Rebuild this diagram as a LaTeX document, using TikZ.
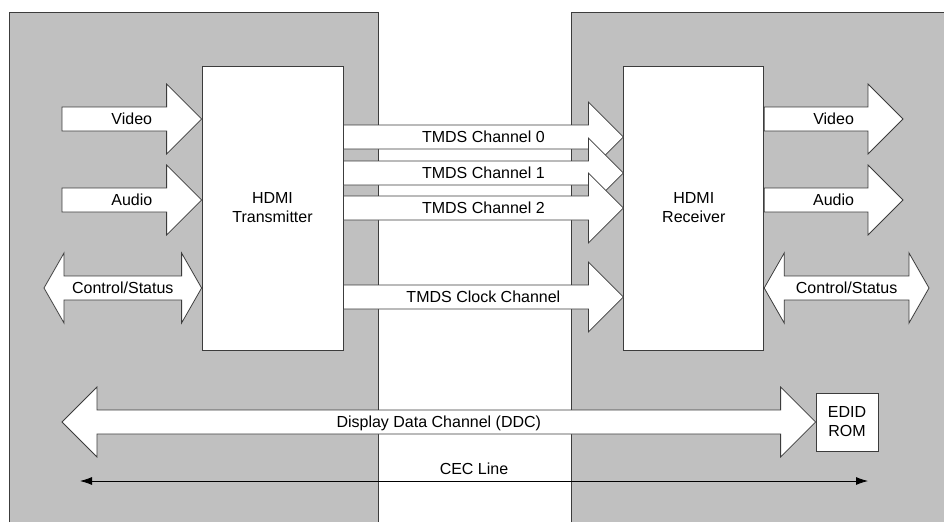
\documentclass[tikz,border=0pt]{standalone}
\usepackage{fontspec}
\setmainfont{Liberation Sans}
\usetikzlibrary{calc,positioning,arrows.meta}

\definecolor{panelgray}{RGB}{192,192,192}
\definecolor{edgegray}{RGB}{60,60,60}

% half widths of the block arrows
\newcommand\arrshaft{12pt}
\newcommand\arrhead{35pt}
\tikzset{tip len/.store in=\tiplen, tip len=35pt}

\begin{document}
\begin{tikzpicture}[x=1pt,y=-1pt,>={Latex[length=12pt,width=8pt]},
  font=\fontsize{16}{19}\selectfont,
  box/.style={draw=edgegray, fill=white, line width=0.8pt, align=center, inner sep=0pt},
  lbl/.style={inner sep=0pt, text height=11.5pt, text depth=0pt},
  bigarrow/.style={draw=edgegray, fill=white, line width=0.8pt,
    to path={let \p1=(\tikztostart), \p2=(\tikztotarget),
      \p3=($(\tikztotarget)!\tiplen!(\tikztostart)$) in
      (\x1,\y1+\arrshaft) -- (\x3,\y1+\arrshaft) -- (\x3,\y1+\arrhead) -- (\x2,\y2)
      -- (\x3,\y1-\arrhead) -- (\x3,\y1-\arrshaft) -- (\x1,\y1-\arrshaft) -- cycle}},
  bothway/.style={draw=edgegray, fill=white, line width=0.8pt,
    to path={let \p1=(\tikztostart), \p2=(\tikztotarget),
      \p3=($(\tikztotarget)!\tiplen!(\tikztostart)$),
      \p4=($(\tikztostart)!\tiplen!(\tikztotarget)$) in
      (\x1,\y1) -- (\x4,\y1+\arrhead) -- (\x4,\y1+\arrshaft) -- (\x3,\y1+\arrshaft)
      -- (\x3,\y1+\arrhead) -- (\x2,\y2) -- (\x3,\y1-\arrhead) -- (\x3,\y1-\arrshaft)
      -- (\x4,\y1-\arrshaft) -- (\x4,\y1-\arrhead) -- cycle}}]
	\useasboundingbox (0,0) rectangle (944,522);

	% source and sink panels
	\fill[panelgray] (9,12) rectangle (378,522);
	\draw[edgegray, line width=0.8pt] (9,522) -- (9,12) -- (378,12) -- (378,522);
	\fill[panelgray] (571,12) rectangle (944,522);
	\draw[edgegray, line width=0.8pt] (571,522) -- (571,12) -- (944,12);

	% create the nodes
	\node[box, minimum width=141pt, minimum height=284pt] (tx) at (272.5,208) {HDMI\\Transmitter};
	\node[box, minimum width=140pt, minimum height=284pt, right=280pt of tx] (rx) {HDMI\\Receiver};
	\node[box, minimum width=62pt, minimum height=58pt] (edid) at (847,422) {EDID\\ROM};

	\coordinate (vidin) at (62,119);
	\coordinate (audin) at (62,200);
	\coordinate (ctlin) at (44,288);
	\coordinate (vidout) at (903,119);
	\coordinate (audout) at (903,200);
	\coordinate (ctlout) at (929,288);
	\coordinate (tm0) at (0,137);
	\coordinate (tm1) at (0,173);
	\coordinate (tm2) at (0,208);
	\coordinate (tmclk) at (0,297);
	\coordinate (ddc) at (62,422);
	\coordinate (cecl) at (80,481);
	\coordinate (cecr) at (868,481);

	% transmitter side
	\draw[bigarrow] (vidin) to (vidin -| tx.west);
	\path (vidin) -- node[lbl] (vidinlbl) {Video} (vidin -| tx.west);
	\draw[bigarrow] (audin) to (audin -| tx.west);
	\path (audin) -- node[lbl] (audinlbl) {Audio} (audin -| tx.west);
	\draw[bothway, tip len=20pt] (ctlin) to (ctlin -| tx.west);
	\path (ctlin) -- node[lbl] (ctlinlbl) {Control/Status} (ctlin -| tx.west);

	% TMDS link
	\draw[bigarrow] (tx.east |- tm0) to (rx.west |- tm0);
	\path (tx.east |- tm0) -- node[lbl] (tm0lbl) {TMDS Channel 0} (rx.west |- tm0);
	\draw[bigarrow] (tx.east |- tm1) to (rx.west |- tm1);
	\path (tx.east |- tm1) -- node[lbl] (tm1lbl) {TMDS Channel 1} (rx.west |- tm1);
	\draw[bigarrow] (tx.east |- tm2) to (rx.west |- tm2);
	\path (tx.east |- tm2) -- node[lbl] (tm2lbl) {TMDS Channel 2} (rx.west |- tm2);
	\draw[bigarrow] (tx.east |- tmclk) to (rx.west |- tmclk);
	\path (tx.east |- tmclk) -- node[lbl] (tmclklbl) {TMDS Clock Channel} (rx.west |- tmclk);

	% receiver side
	\draw[bigarrow] (vidout -| rx.east) to (vidout);
	\path (vidout -| rx.east) -- node[lbl] (vidoutlbl) {Video} (vidout);
	\draw[bigarrow] (audout -| rx.east) to (audout);
	\path (audout -| rx.east) -- node[lbl] (audoutlbl) {Audio} (audout);
	\draw[bothway, tip len=20pt] (ctlout -| rx.east) to (ctlout);
	\path (ctlout -| rx.east) -- node[lbl] (ctloutlbl) {Control/Status} (ctlout);

	% DDC and CEC
	\draw[bothway] (ddc) to (edid.west);
	\path (ddc) -- node[lbl] (ddclbl) {Display Data Channel (DDC)} (edid.west);
	\draw[<->, black, line width=0.8pt] (cecl) -- node[lbl, above=6pt] (ceclbl) {CEC Line} (cecr);

\end{tikzpicture}
\end{document}
